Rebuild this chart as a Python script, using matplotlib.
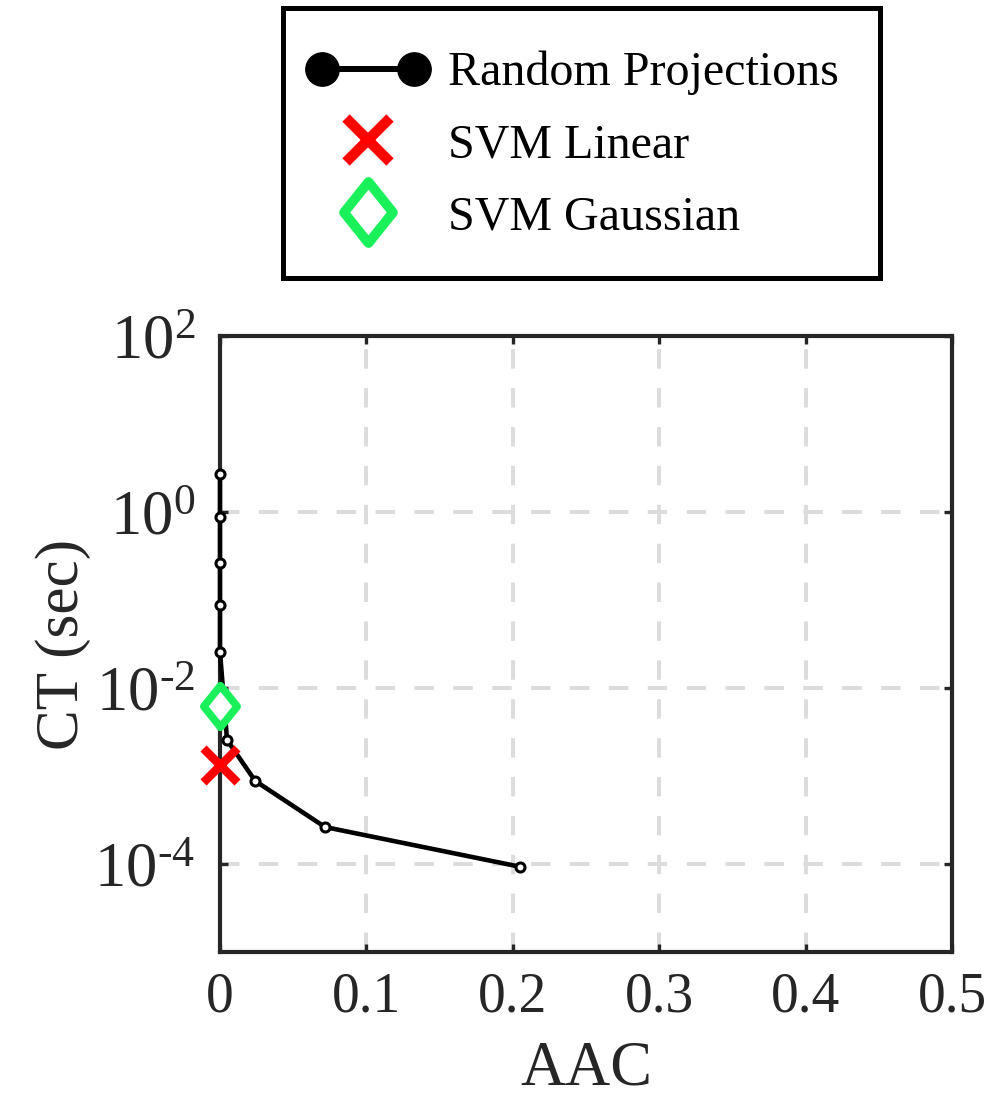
import math
import matplotlib
matplotlib.use("Agg")
import matplotlib.pyplot as plt
from matplotlib.lines import Line2D
from matplotlib.patches import Rectangle
from matplotlib.path import Path
from matplotlib.legend_handler import HandlerLine2D
from matplotlib.ticker import FixedLocator, FuncFormatter, NullLocator

# --- Data ---
rp_aac = [0.0, 0.0, 0.0, 0.0, 0.0, 0.0048, 0.024, 0.0717, 0.205]
rp_ct = [2.70, 0.88, 0.263, 0.088, 0.0256, 0.00257, 0.00088, 0.000263, 9.3e-5]
lin_aac = [0.0]
lin_ct = [0.00133]
gau_aac = [0.0]
gau_ct = [0.0063]
x_ticks = [0, 0.1, 0.2, 0.3, 0.4, 0.5]
y_ticks = [1e-4, 1e-2, 1e0, 1e2]
labels = ["Random Projections", "SVM Linear", "SVM Gaussian"]

plt.rcParams["font.family"] = ["Liberation Serif", "DejaVu Serif"]
plt.rcParams["mathtext.fontset"] = "custom"
plt.rcParams["mathtext.rm"] = "Liberation Serif"
plt.rcParams["mathtext.it"] = "Liberation Serif:italic"
plt.rcParams["mathtext.bf"] = "Liberation Serif:bold"

edge = "#262626"
red = "#ff0000"
green = "#19f05a"
W, H = 1002, 1096

# wider diamond than matplotlib's "d"
diamond = Path([(0, 1), (0.8, 0), (0, -1), (-0.8, 0), (0, 1)],
               [Path.MOVETO, Path.LINETO, Path.LINETO, Path.LINETO, Path.CLOSEPOLY])


def log_label(v, pos):
    e = round(math.log10(v))
    # plain hyphen like the original, not a minus sign
    return r"$10^{%s}$" % (str(e).replace("-", "\u2010"))


fig = plt.figure(figsize=(W / 100, H / 100), dpi=100)
ax = fig.add_axes([220 / W, 1 - 952 / H, 732 / W, 616 / H])

ax.plot(rp_aac, rp_ct, color="black", lw=3.3, marker="o", ms=6.5,
        mfc="white", mec="black", mew=2.2, zorder=3, clip_on=False)
ax.plot(lin_aac, lin_ct, ls="none", marker="x", ms=25, mew=6.2, color=red,
        zorder=4, clip_on=False)
ax.plot(gau_aac, gau_ct, ls="none", marker=diamond, ms=30, mew=5.5, mfc="white",
        mec=green, zorder=4, clip_on=False)

ax.set_yscale("log")
ax.set_xlim(0, 0.5)
ax.set_ylim(1e-5, 1e2)
ax.xaxis.set_major_locator(FixedLocator(x_ticks))
ax.yaxis.set_major_locator(FixedLocator(y_ticks))
ax.yaxis.set_minor_locator(NullLocator())
ax.xaxis.set_major_formatter(FuncFormatter(lambda v, p: "0" if v == 0 else f"{v:.1f}"))
ax.yaxis.set_major_formatter(FuncFormatter(log_label))

ax.tick_params(which="both", direction="in", top=True, right=True,
               length=6, width=2.4, color=edge, labelcolor=edge)
ax.tick_params(axis="x", labelsize=40, pad=14)
ax.tick_params(axis="y", labelsize=45, pad=18)
for s in ax.spines.values():
    s.set_linewidth(3.0)
    s.set_color(edge)

ax.grid(True, which="major", color="#dcdcdc", lw=2.8, ls=(0, (5, 5)))
ax.set_axisbelow(True)

ax.set_xlabel("AAC", fontsize=45, color=edge, labelpad=12)
ax.set_ylabel("CT (sec)", fontsize=44, color=edge, labelpad=2)

# --- Legend (frame drawn separately) ---
h_rp = Line2D([], [], color="black", lw=4.3, marker="o", ms=24, mfc="black", mec="black")
h_lin = Line2D([], [], ls="none", marker="x", ms=32, mew=7.5, color=red)
h_gau = Line2D([], [], ls="none", marker=diamond, ms=44, mew=7, mfc="white", mec=green)
leg = fig.legend([h_rp, h_lin, h_gau], labels,
                 loc="center left", bbox_to_anchor=(308 / W, 1 - 145 / H),
                 fontsize=34.6, handlelength=2.51, handletextpad=0.41,
                 labelspacing=0.58, borderpad=0, borderaxespad=0, frameon=False,
                 handler_map={h_rp: HandlerLine2D(numpoints=2),
                              h_lin: HandlerLine2D(numpoints=1),
                              h_gau: HandlerLine2D(numpoints=1)})
fig.patches.append(Rectangle((283 / W, 1 - 278 / H), 597 / W, 270 / H,
                             transform=fig.transFigure, fill=False,
                             edgecolor="black", lw=3.6, zorder=5))

fig.savefig("out.png", dpi=100)
